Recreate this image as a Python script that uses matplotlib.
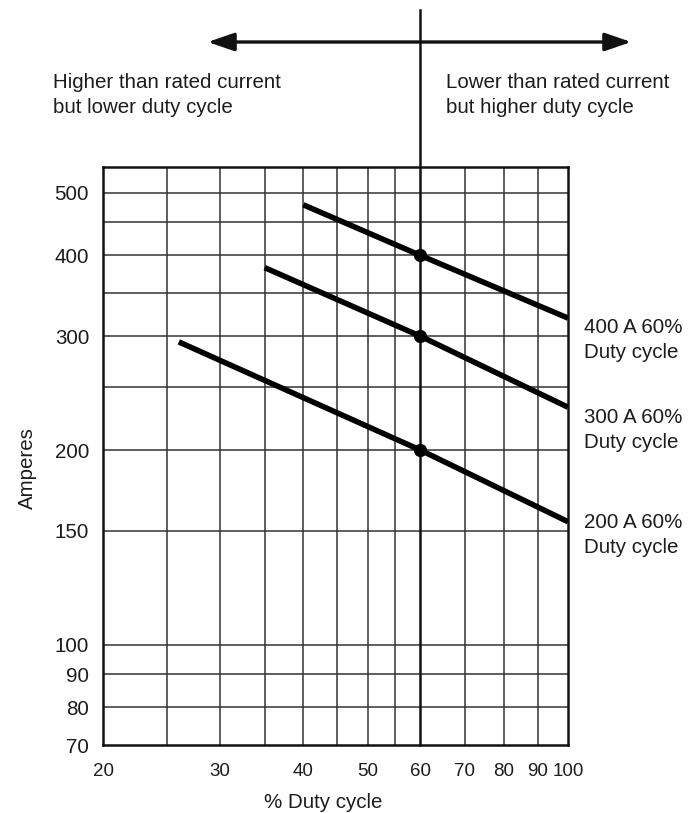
import matplotlib
matplotlib.use("Agg")
import matplotlib.pyplot as plt
from matplotlib.ticker import FixedLocator, NullLocator

plt.rcParams['font.family'] = ['Liberation Sans', 'DejaVu Sans']

# Data
x_ticks = [20, 30, 40, 50, 60, 70, 80, 90, 100]
x_grid = [25, 30, 35, 40, 45, 50, 55, 60, 70, 80, 90]
y_ticks = [70, 80, 90, 100, 150, 200, 300, 400, 500]
y_grid = [80, 90, 100, 150, 200, 250, 300, 350, 400, 450, 500]

duty_400 = [40, 60, 100]
amps_400 = [479, 400, 320]
duty_300 = [35, 60, 100]
amps_300 = [383, 300, 233]
duty_200 = [26, 60, 100]
amps_200 = [294, 200, 155]

rated_duty = [60, 60, 60]
rated_amps = [400, 300, 200]

series_labels = ["400 A 60%\nDuty cycle", "300 A 60%\nDuty cycle", "200 A 60%\nDuty cycle"]

W, H = 690, 813
FS = 14.8
TC = '#1c1c1c'
fig = plt.figure(figsize=(W / 100, H / 100), dpi=100)
ax = fig.add_axes([103 / W, 1 - 745 / H, (568 - 103) / W, (745 - 167) / H])
ax.set_xscale('log')
ax.set_yscale('log')
ax.set_xlim(20, 100)
ax.set_ylim(70, 548)

for gx in x_grid:
    if gx != 60:
        ax.axvline(gx, color='#333333', lw=1.1, zorder=1)
for gy in y_grid:
    ax.axhline(gy, color='#333333', lw=1.1, zorder=1)

# vertical 60% line extending above the plot
ax.axvline(60, ymin=0, ymax=(745 - 10) / (745 - 167), color='#111111', lw=1.8,
           clip_on=False, zorder=3)

for xs, ys in [(duty_400, amps_400), (duty_300, amps_300), (duty_200, amps_200)]:
    ax.plot(xs, ys, color='black', lw=4.0, solid_capstyle='butt', zorder=4)
ax.plot(rated_duty, rated_amps, 'o', color='black', ms=8.5, zorder=5)

ax.xaxis.set_major_locator(FixedLocator(x_ticks))
ax.xaxis.set_minor_locator(NullLocator())
ax.set_xticklabels([str(v) for v in x_ticks])
ax.yaxis.set_major_locator(FixedLocator(y_ticks))
ax.yaxis.set_minor_locator(NullLocator())
ax.set_yticklabels([str(v) for v in y_ticks])
ax.tick_params(axis='both', length=0, colors=TC)
ax.tick_params(axis='x', pad=13, labelsize=13.5)
ax.tick_params(axis='y', pad=10, labelsize=FS)

for sp in ax.spines.values():
    sp.set_linewidth(1.8)
    sp.set_color('#111111')

fig.text(27 / W, 1 - 468 / H, 'Amperes', rotation=90, ha='center', va='center',
         fontsize=FS, color=TC)
fig.text(323 / W, 1 - 802 / H, '% Duty cycle', ha='center', va='center',
         fontsize=FS, color=TC)

# right-side labels
label_y = [340, 430, 535]
for lab, ly in zip(series_labels, label_y):
    fig.text(584 / W, 1 - ly / H, lab, ha='left', va='center', fontsize=FS,
             color=TC, linespacing=1.4)

# top annotations
fig.text(53 / W, 1 - 95 / H, 'Higher than rated current\nbut lower duty cycle',
         ha='left', va='center', fontsize=FS, color=TC, linespacing=1.4)
fig.text(446 / W, 1 - 95 / H, 'Lower than rated current\nbut higher duty cycle',
         ha='left', va='center', fontsize=FS, color=TC, linespacing=1.4)

fig.patches.append(matplotlib.patches.FancyArrowPatch(
    (205 / W, 1 - 42 / H), (634 / W, 1 - 42 / H), transform=fig.transFigure,
    arrowstyle='<|-|>,head_length=16,head_width=5.5', mutation_scale=1,
    lw=2.4, color='#111111'))

fig.savefig('out.png', dpi=100)
